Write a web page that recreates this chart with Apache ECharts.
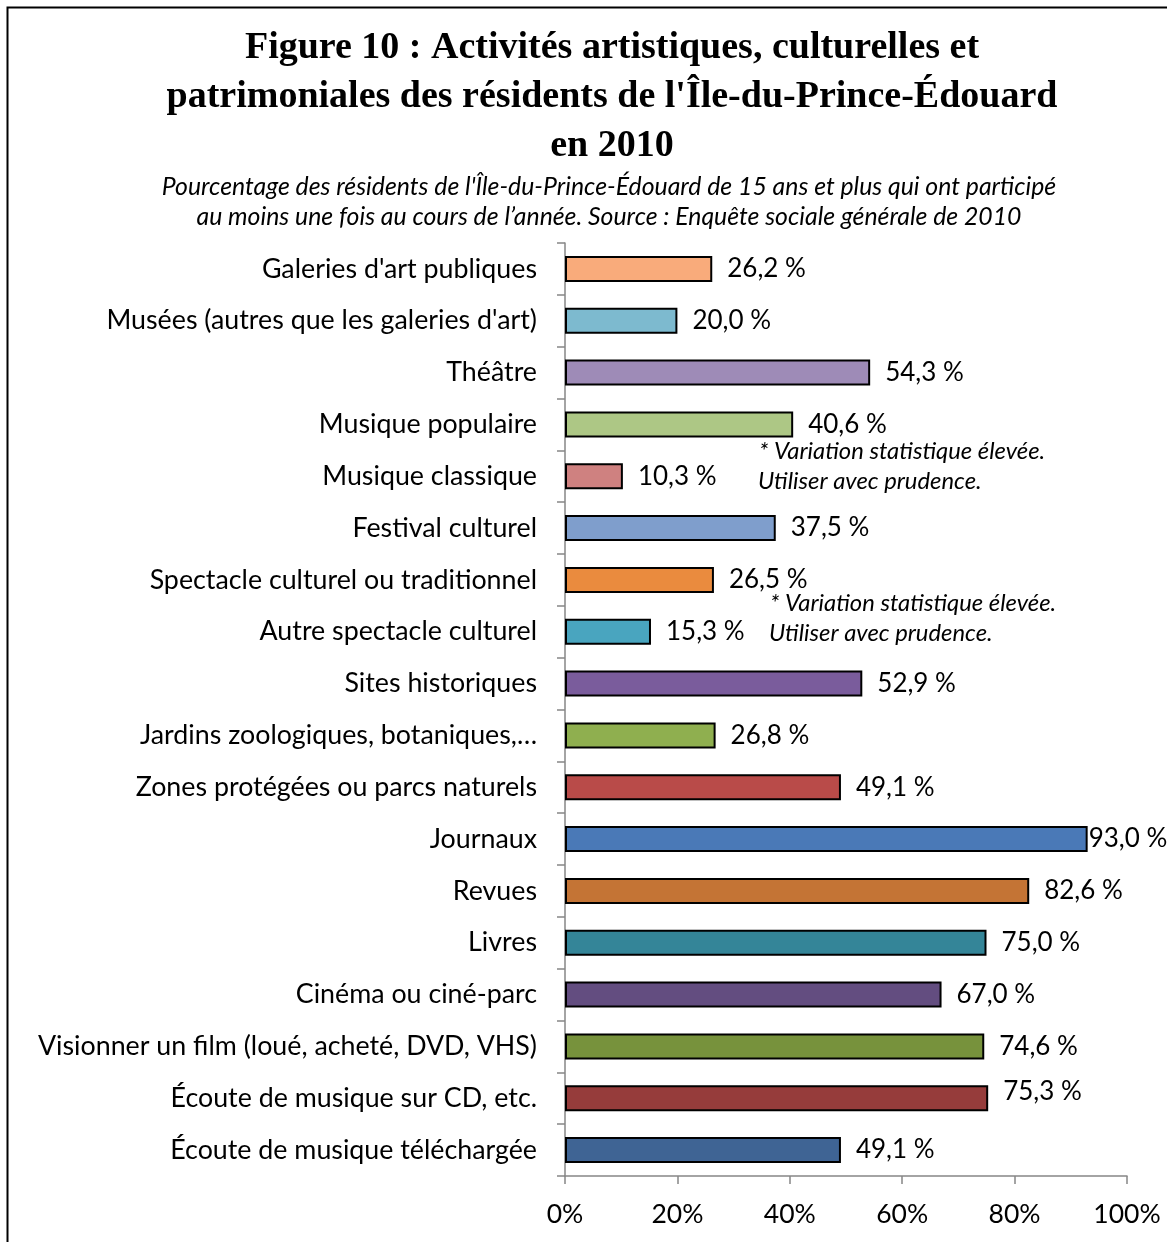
<!DOCTYPE html>
<html>
<head>
<meta charset="utf-8">
<script src="https://cdn.jsdelivr.net/npm/echarts@6/dist/echarts.min.js"></script>
<style>
  html, body { margin: 0; padding: 0; background: #fff; }
  #chart { width: 1167px; height: 1242px; }
</style>
</head>
<body>
<div id="chart"></div>
<script>
var categories = [
  "Galeries d'art publiques",
  "Musées (autres que les galeries d'art)",
  "Théâtre",
  "Musique populaire",
  "Musique classique",
  "Festival culturel",
  "Spectacle culturel ou traditionnel",
  "Autre spectacle culturel",
  "Sites historiques",
  "Jardins zoologiques, botaniques,…",
  "Zones protégées ou parcs naturels",
  "Journaux",
  "Revues",
  "Livres",
  "Cinéma ou ciné-parc",
  "Visionner un film (loué, acheté, DVD, VHS)",
  "Écoute de musique sur CD, etc.",
  "Écoute de musique téléchargée"
];
var values = [26.2, 20.0, 54.3, 40.6, 10.3, 37.5, 26.5, 15.3, 52.9, 26.8, 49.1, 93.0, 82.6, 75.0, 67.0, 74.6, 75.3, 49.1];
var barColors = [
  "#F9AB7B", "#7DBACF", "#9E8BB7", "#ADC785", "#CF8180", "#7F9ECC",
  "#EA8B3E", "#49A5BF", "#7A5C9C", "#8FAF4F", "#B94B49", "#4A79B7",
  "#C47435", "#348598", "#634D80", "#77923C", "#963C3B", "#3F6494"
];
var tickLabels = ["0%", "20%", "40%", "60%", "80%", "100%"];
var noteText = ["* Variation statistique élevée.", "Utiliser avec prudence."];

var chartDom = document.getElementById("chart");
var myChart = echarts.init(chartDom);
var option;

var seriesData = values.map(function (v, i) {
  var item = { value: v, itemStyle: { color: barColors[i] } };
  if (v > 90) item.label = { distance: 1 };
  if (i === categories.length - 2) item.label = { offset: [0, -7] };
  return item;
});

var noteFont = "italic 23.8px Lato";

option = {
  backgroundColor: "#fff",
  animation: false,
  title: [
    {
      text: "Figure 10 : Activités artistiques, culturelles et\npatrimoniales des résidents de l'Île-du-Prince-Édouard\nen 2010",
      left: 607,
      top: 19,
      textAlign: "center",
      textStyle: {
        fontFamily: "Liberation Serif",
        fontWeight: "bold",
        fontSize: 38,
        lineHeight: 49,
        color: "#000"
      }
    },
    {
      text: "Pourcentage des résidents de l'Île-du-Prince-Édouard de 15 ans et plus qui ont participé\nau moins une fois au cours de l’année. Source : Enquête sociale générale de 2010",
      left: 604,
      top: 167,
      textAlign: "center",
      textStyle: {
        fontFamily: "Lato",
        fontStyle: "italic",
        fontWeight: "normal",
        fontSize: 24.8,
        lineHeight: 30,
        color: "#000"
      }
    }
  ],
  grid: {
    left: 565,
    right: 40,
    top: 243,
    bottom: 66,
    containLabel: false
  },
  xAxis: {
    type: "value",
    min: 0,
    max: 100,
    interval: 20,
    splitLine: { show: false },
    axisLine: { show: true, lineStyle: { color: "#868686", width: 1.5 } },
    axisTick: { show: true, length: 8, lineStyle: { color: "#868686", width: 1.5 } },
    axisLabel: {
      margin: 25,
      fontFamily: "Lato",
      fontSize: 26.5,
      color: "#000",
      formatter: function (v) { return tickLabels[v / 20]; }
    }
  },
  yAxis: {
    type: "category",
    data: categories,
    inverse: true,
    axisLine: { show: true, lineStyle: { color: "#868686", width: 1.5 } },
    axisTick: { show: true, length: 8, alignWithLabel: false, lineStyle: { color: "#868686", width: 1.5 } },
    axisLabel: {
      margin: 28,
      fontFamily: "Lato",
      fontSize: 26.8,
      color: "#000"
    }
  },
  series: [
    {
      type: "bar",
      data: seriesData,
      barWidth: 26,
      itemStyle: { borderColor: "#000", borderWidth: 2 },
      label: {
        show: true,
        position: "right",
        distance: 15,
        fontFamily: "Lato",
        fontSize: 26,
        color: "#000",
        formatter: function (p) {
          return p.value.toFixed(1).replace(".", ",") + " %";
        }
      }
    }
  ],
  graphic: [
    {
      type: "rect",
      left: 5,
      top: 5,
      shape: { width: 1180, height: 1260 },
      style: { fill: null, stroke: "#000", lineWidth: 2 },
      silent: true
    },
    {
      type: "text",
      left: 759,
      top: 439,
      style: { text: noteText[0], font: noteFont, fill: "#000" }
    },
    {
      type: "text",
      left: 758,
      top: 469,
      style: { text: noteText[1], font: noteFont, fill: "#000" }
    },
    {
      type: "text",
      left: 770,
      top: 591,
      style: { text: noteText[0], font: noteFont, fill: "#000" }
    },
    {
      type: "text",
      left: 769,
      top: 621,
      style: { text: noteText[1], font: noteFont, fill: "#000" }
    }
  ]
};

option && myChart.setOption(option);
</script>
</body>
</html>
